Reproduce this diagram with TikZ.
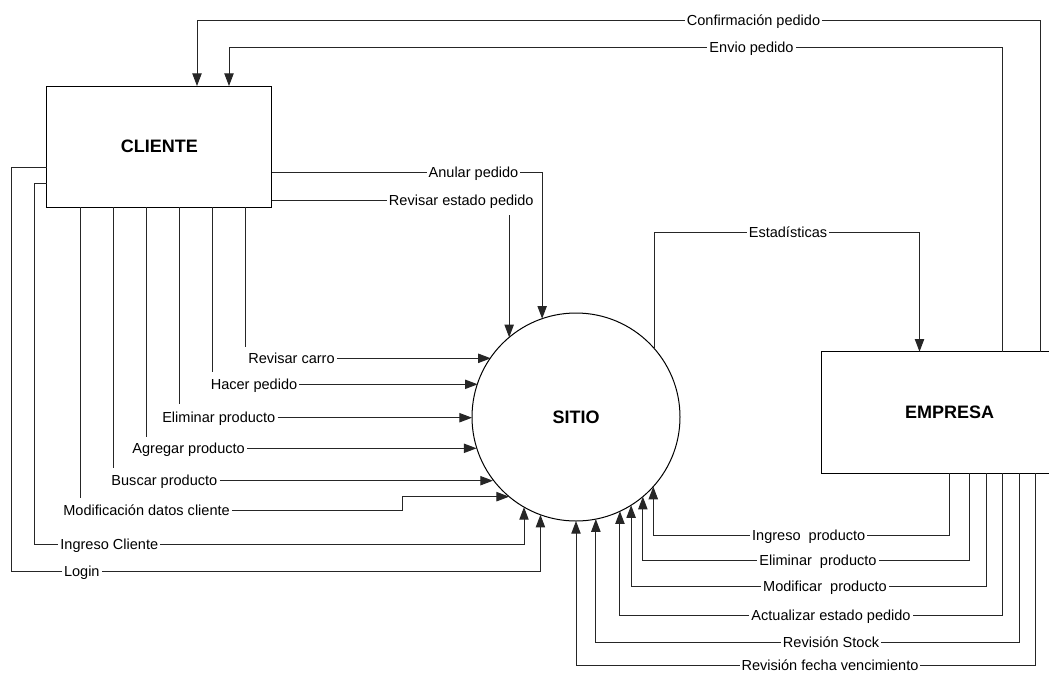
\documentclass[tikz,border=0pt]{standalone}
\usepackage{fontspec}
\setmainfont{Liberation Sans}
\usetikzlibrary{arrows.meta,calc}
\begin{document}
\begin{tikzpicture}[x=0.75pt,y=-0.75pt,
  >={Triangle[length=9.5pt,width=7pt]},
  flow/.style={draw=black!85,line width=0.75pt},
  lbl/.style={fill=white,inner xsep=1.5pt,inner ysep=1pt,text height=7.8pt,text depth=0pt,
              font=\fontsize{10.9}{13}\selectfont},
  entity/.style={draw,line width=0.75pt,rectangle,outer sep=0pt,
                 font=\fontsize{13.5}{16}\selectfont\bfseries},
  process/.style={draw,line width=0.75pt,circle,inner sep=0pt,outer sep=0pt,
                  minimum size=156pt,font=\fontsize{13.5}{16}\selectfont\bfseries}]
\useasboundingbox (0,0) rectangle (1049,672);
\clip (0,0) rectangle (1049,672);
\fill[white] (0,0) rectangle (1049,672);

% external entities and the process
\node[entity,minimum width=169pt,minimum height=91pt] (cliente) at (159.3,146.7) {CLIENTE};
\node[entity,minimum width=192.75pt,minimum height=91.2pt] (empresa) at (949.5,412.5) {EMPRESA};
\node[process] (sitio) at (576,417) {SITIO};

% EMPRESA -> CLIENTE along the top
\draw[flow,->] (empresa.north -| 1040.3,0) |- (197,20.3) -- (cliente.north -| 197,0);
\draw[flow,->] (empresa.north -| 1002.7,0) |- (229,47.7) -- (cliente.north -| 229,0);
\node[lbl] (l-conf) at (753.5,20.3) {Confirmación pedido};
\node[lbl] (l-envio) at (751.5,47.7) {Envio pedido};

% SITIO -> EMPRESA
\draw[flow,->] (sitio.41.2) |- (919.5,232.7) -- (empresa.north -| 919.5,0);
\node[lbl] (l-estad) at (788,232.7) {Estadísticas};

% CLIENTE -> SITIO from above
\draw[flow,->] (cliente.east |- 0,172) -| (sitio.109.5);
\node[lbl] (l-anular) at (473.5,172) {Anular pedido};
\node[lbl] (l-revest) at (461.3,200) {Revisar estado pedido};
\draw[flow] (cliente.east |- 0,200) -- (l-revest.west);
\coordinate (revest-start) at (sitio.130.3 |- 0,215);
\draw[flow,->] (revest-start) -- (sitio.130.3);

% CLIENTE -> SITIO from the left
\draw[flow] (cliente.south -| 245.5,0) -- (245.5,346.7);
\node[lbl,anchor=west] (l-carro) at (246,358.3) {Revisar carro};
\draw[flow,->] (l-carro.east) -- (l-carro.east -| sitio.145.6);

\draw[flow] (cliente.south -| 212.6,0) -- (212.6,371.7);
\node[lbl,anchor=west] (l-hacer) at (208.5,384.3) {Hacer pedido};
\draw[flow,->] (l-hacer.east) -- (l-hacer.east -| sitio.161.7);

\draw[flow] (cliente.south -| 179.6,0) -- (179.6,404.3);
\node[lbl,anchor=west] (l-elim) at (160,417.7) {Eliminar producto};
\draw[flow,->] (l-elim.east) -- (l-elim.east -| sitio.180.4);

\draw[flow] (cliente.south -| 146.3,0) -- (146.3,436.7);
\node[lbl,anchor=west] (l-agr) at (130.2,448.3) {Agregar producto};
\draw[flow,->] (l-agr.east) -- (l-agr.east -| sitio.197.5);

\draw[flow] (cliente.south -| 113.3,0) -- (113.3,468.3);
\node[lbl,anchor=west] (l-busc) at (109.2,480.7) {Buscar producto};
\draw[flow,->] (l-busc.east) -- (l-busc.east -| sitio.217.8);

\draw[flow] (cliente.south -| 80,0) -- (80,498.3);
\node[lbl,anchor=west] (l-mod) at (61.1,510) {Modificación datos cliente};
\draw[flow,->] (l-mod.east) -- (402.3,510) |- (sitio.230.5);

% CLIENTE -> SITIO from below, around the left side
\draw[flow,->] (cliente.west |- 0,183.7) -| (34.7,544.3) -| (sitio.240);
\node[lbl] (l-ingcli) at (109.3,544.3) {Ingreso Cliente};
\draw[flow,->] (cliente.west |- 0,167.3) -| (11.3,571.7) -| (sitio.250.5);
\node[lbl] (l-login) at (81.8,571.7) {Login};

% EMPRESA -> SITIO from below
\draw[flow,->] (empresa.south -| 949.2,0) -- (949.2,535) -| (sitio.318.9);
\node[lbl] (l-ingprod) at (808.7,535) {Ingreso\ \ producto};
\draw[flow,->] (empresa.south -| 969.9,0) -- (969.9,560) -| (sitio.310);
\node[lbl] (l-elimprod) at (818,560) {Eliminar\ \ producto};
\draw[flow,->] (empresa.south -| 986,0) -- (986,586.7) -| (sitio.302.8);
\node[lbl] (l-modprod) at (825,586.7) {Modificar\ \ producto};
\draw[flow,->] (empresa.south -| 1002.7,0) -- (1002.7,615) -| (sitio.295);
\node[lbl] (l-act) at (831,615) {Actualizar estado pedido};
\draw[flow,->] (empresa.south -| 1019.3,0) -- (1019.3,642.3) -| (sitio.281.8);
\node[lbl] (l-stock) at (831,642.3) {Revisión Stock};
\draw[flow,->] (empresa.south -| 1035.7,0) -- (1035.7,665) -| (sitio.270);
\node[lbl] (l-fecha) at (830,665) {Revisión fecha vencimiento};
\end{tikzpicture}
\end{document}
